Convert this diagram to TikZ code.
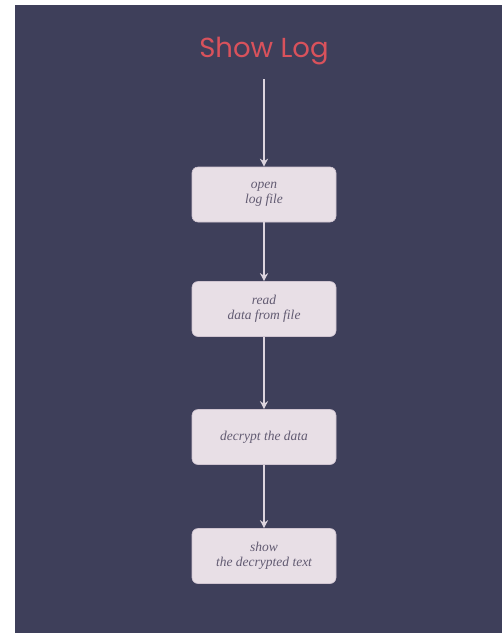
\documentclass[tikz,border=0pt]{standalone}
\usepackage{fontspec}
\newfontfamily\titlefont{Poppins}
\newfontfamily\stepfont{Liberation Serif}
\usetikzlibrary{arrows.meta}
\definecolor{bgdark}{HTML}{3E3F5A}
\definecolor{titlered}{HTML}{D9525C}
\definecolor{boxfill}{HTML}{E8DFE6}
\definecolor{boxedge}{HTML}{CFC4D0}
\definecolor{boxtext}{HTML}{625B72}
\definecolor{flowline}{HTML}{DCD4DE}
\tikzset{
  stepbox/.style={draw=boxedge, line width=0.6pt, fill=boxfill, rounded corners=6pt,
    minimum width=144pt, minimum height=55pt, inner sep=0pt, align=center,
    text=boxtext, font=\stepfont\fontsize{13.5}{15}\selectfont\itshape},
  flow/.style={draw=flowline, line width=1.2pt,
    -{Stealth[length=8pt,width=8pt,inset=2.5pt]}}
}
\begin{document}
\begin{tikzpicture}[x=1pt,y=-1pt]
  % page and dark panel
  \fill[white] (0,0) rectangle (502,633);
  \fill[bgdark] (15,5) rectangle (502,633);
  \useasboundingbox (0,0) rectangle (502,633);

  % title and flow steps
  \node[text=titlered, font=\titlefont\fontsize{27.5}{32}\selectfont] (title) at (264,51) {Show Log};
  \coordinate (start) at (264,79);
  \node[stepbox] (open) at (264,194.5) {open\\log file};
  \node[stepbox] (read) at (264,309) {read\\data from file};
  \node[stepbox] (decrypt) at (264,437) {decrypt the data};
  \node[stepbox] (show) at (264,556) {show\\the decrypted text};

  % connectors
  \draw[flow] (start) -- (open.north);
  \draw[flow] (open) -- (read);
  \draw[flow] (read) -- (decrypt);
  \draw[flow] (decrypt) -- (show);
\end{tikzpicture}
\end{document}
